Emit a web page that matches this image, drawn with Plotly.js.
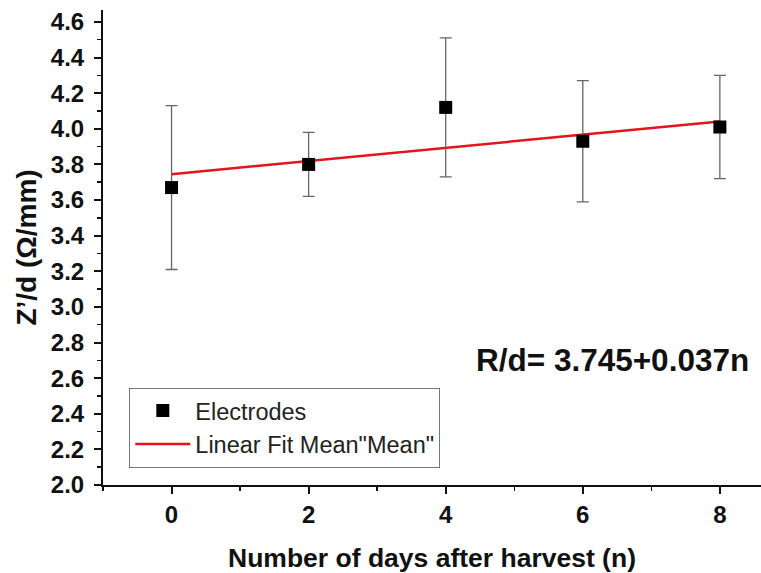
<!DOCTYPE html>
<html>
<head>
<meta charset="utf-8">
<script src="https://cdn.plot.ly/plotly-3.0.1.min.js"></script>
<style>html,body{margin:0;padding:0;background:#fff;}#chart{width:761px;height:573px;}</style>
</head>
<body>
<div id="chart"></div>
<script>
// Data
const days = [0, 2, 4, 6, 8];
const meanValues = [3.67, 3.80, 4.12, 3.93, 4.01];
const errorValues = [0.46, 0.18, 0.39, 0.34, 0.29];
const fitDays = [0, 8];
const fitValues = [3.745, 4.041];
const yTickVals = [2.0, 2.2, 2.4, 2.6, 2.8, 3.0, 3.2, 3.4, 3.6, 3.8, 4.0, 4.2, 4.4, 4.6];
const xTickVals = [0, 2, 4, 6, 8];
const fitLabel = 'R/d= 3.745+0.037n';

const FONT = 'Liberation Sans, Arial, Helvetica, sans-serif';

const traces = [
  {
    x: fitDays, y: fitValues, type: 'scatter', mode: 'lines',
    name: 'Linear Fit Mean"Mean"',
    line: {color: '#e3141b', width: 2.5},
    legendrank: 2
  },
  {
    x: days, y: meanValues, type: 'scatter', mode: 'markers',
    name: 'Electrodes',
    marker: {symbol: 'square', size: 13, color: '#000'},
    error_y: {type: 'data', array: errorValues, visible: true, color: '#666', thickness: 1.3, width: 6},
    legendrank: 1
  }
];

const layout = {
  width: 761, height: 573,
  margin: {l: 103, r: 0, t: 10, b: 88},
  paper_bgcolor: '#fff', plot_bgcolor: '#fff',
  font: {family: FONT, color: '#111'},
  showlegend: true,
  legend: {
    x: 0.040, y: 0.205, xanchor: 'left', yanchor: 'top',
    bgcolor: '#fff', bordercolor: '#777', borderwidth: 1,
    font: {family: FONT, size: 23.5, color: '#222'},
    itemwidth: 55, tracegroupgap: 0
  },
  xaxis: {
    range: [-1, 8.6], tickmode: 'array', tickvals: xTickVals,
    ticks: 'outside', ticklen: 7, tickwidth: 2, tickcolor: '#111',
    showline: true, linecolor: '#111', linewidth: 2,
    showgrid: false, zeroline: false,
    tickfont: {family: FONT, size: 24, weight: 'bold', color: '#111'},
    minor: {dtick: 1, tick0: 1, ticks: 'outside', ticklen: 4, tickwidth: 1.5, tickcolor: '#111', showgrid: false},
    title: {text: 'Number of days after harvest (n)', font: {family: FONT, size: 26.5, weight: 'bold', color: '#111'}, standoff: 22}
  },
  yaxis: {
    range: [2.0, 4.667], tickmode: 'array', tickvals: yTickVals, tickformat: '.1f',
    ticks: 'outside', ticklen: 7, tickwidth: 2, tickcolor: '#111',
    showline: true, linecolor: '#111', linewidth: 2,
    showgrid: false, zeroline: false, ticklabelstandoff: 5,
    tickfont: {family: FONT, size: 24, weight: 'bold', color: '#111'},
    minor: {dtick: 0.1, tick0: 2.0, ticks: 'outside', ticklen: 4, tickwidth: 1.5, tickcolor: '#111', showgrid: false},
    title: {text: 'Z’/d (Ω/mm)', font: {family: FONT, size: 28, weight: 'bold', color: '#111'}, standoff: 6}
  },
  annotations: [{
    xref: 'paper', yref: 'paper', x: 0.775, y: 0.263, xanchor: 'center', yanchor: 'middle',
    text: fitLabel, showarrow: false,
    font: {family: FONT, size: 31.5, weight: 'bold', color: '#111'}
  }]
};

Plotly.newPlot('chart', traces, layout, {displayModeBar: false, staticPlot: true});
</script>
</body>
</html>
